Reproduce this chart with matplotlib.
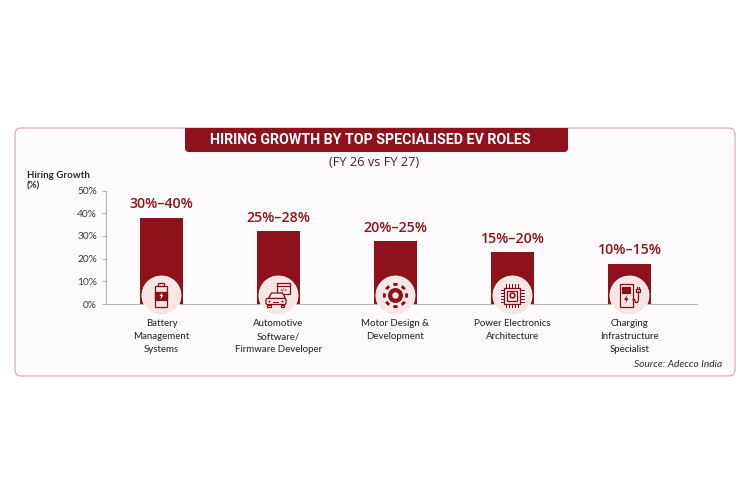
import matplotlib
matplotlib.use("Agg")
import matplotlib.pyplot as plt
from matplotlib.patches import Circle, FancyBboxPatch, Rectangle, Polygon, Wedge

# ── Data ──────────────────────────────────────────────────────────────────────
roles = [
    "Battery\nManagement\nSystems",
    "Automotive\nSoftware/\nFirmware Developer",
    "Motor Design &\nDevelopment",
    "Power Electronics\nArchitecture",
    "Charging\nInfrastructure\nSpecialist",
]
bar_values = [38.1, 32.2, 27.7, 22.7, 17.8]
range_labels = ["30%–40%", "25%–28%", "20%–25%", "15%–20%", "10%–15%"]
y_ticks = [0, 10, 20, 30, 40, 50]

RED = "#8f111c"
DARK = "#7d1018"
PINK = "#f8e6e6"
TEXT = "#2b2b2b"
W, H = 750, 500

plt.rcParams["font.family"] = ["Lato", "DejaVu Sans"]
fig = plt.figure(figsize=(7.5, 5), dpi=100, facecolor="white")


def pixel_axes(zorder):
    a = fig.add_axes([0, 0, 1, 1], zorder=zorder)
    a.set_xlim(0, W)
    a.set_ylim(H, 0)
    a.axis("off")
    a.patch.set_alpha(0)
    return a


# ── Panel and banner ──────────────────────────────────────────────────────────
bg = pixel_axes(0)
bg.add_patch(FancyBboxPatch((15, 128), 720, 248, boxstyle="round,pad=0,rounding_size=6",
                            fc="#fefbfc", ec="#d9a5ab", lw=0.8))
bg.add_patch(FancyBboxPatch((185, 128), 383, 24, boxstyle="round,pad=0,rounding_size=4",
                            fc=RED, ec="none"))
bg.add_patch(Rectangle((185, 128), 383, 8, fc=RED, ec="none"))
bg.text(370.5, 140, "HIRING GROWTH BY TOP SPECIALISED EV ROLES", color="white",
        family=["Roboto", "DejaVu Sans"], fontsize=10.3, fontweight="bold",
        ha="center", va="center")
bg.text(374.5, 162.5, "(FY 26 vs FY 27)", color="#4a2226", fontsize=9.2,
        family=["Open Sans", "DejaVu Sans"], ha="center", va="center")
bg.text(27, 175, "Hiring Growth", color=TEXT, fontsize=7, fontweight="bold",
        ha="left", va="center")
bg.text(27, 186, "(%)", color=TEXT, fontsize=7, fontweight="bold",
        ha="left", va="center")
bg.text(722, 364.5, "Source: Adecco India", color=TEXT, fontsize=7.3, style="italic",
        ha="right", va="center")

# ── Bars ──────────────────────────────────────────────────────────────────────
ax = fig.add_axes([106 / W, 1 - 304 / H, (697 - 106) / W, (304 - 190.5) / H], zorder=1)
ax.patch.set_alpha(0)
x = list(range(len(roles)))
ax.bar(x, bar_values, width=0.368, color=RED)
ax.set_xlim(-0.474, 4.577)
ax.set_ylim(0, 50)
ax.set_yticks(y_ticks)
ax.set_yticklabels([f"{t}%" for t in y_ticks], fontsize=7.3, color="#3a3a3a")
ax.set_xticks([])
ax.tick_params(axis="y", length=3, width=0.7, color="#b9b3b5", pad=3.5)
for s in ["top", "right"]:
    ax.spines[s].set_visible(False)
for s in ["left", "bottom"]:
    ax.spines[s].set_color("#b9b3b5")
    ax.spines[s].set_linewidth(0.8)

for i, (v, lab) in enumerate(zip(bar_values, range_labels)):
    ax.annotate(lab, (i, v), xytext=(0, 4.4), textcoords="offset points", ha="center",
                va="bottom", color=RED, fontsize=10.2, fontweight="semibold",
                family=["Open Sans", "DejaVu Sans"])

# ── Icons and role labels (pixel overlay) ─────────────────────────────────────
ov = pixel_axes(2)
cy = 295.5


def outline(xy, w, h, lw=0.9, fc="none"):
    ov.add_patch(Rectangle(xy, w, h, fc=fc, ec=DARK, lw=lw))


def battery(c):
    outline((c - 6, cy - 9.5), 12, 21)
    outline((c - 3, cy - 12.5), 6, 3)
    outline((c - 6, cy - 3.5), 12, 8, fc=RED)
    ov.add_patch(Polygon([(c + 1, cy - 3), (c - 2, cy + 0.5), (c - 0.3, cy + 0.5), (c - 1, cy + 4),
                          (c + 2, cy - 0.5), (c + 0.3, cy - 0.5)], fc="white", ec="none"))


def car(c):
    outline((c - 1.5, cy - 12.5), 13.5, 10.5)
    ov.plot([c - 1.5, c + 12], [cy - 9.5, cy - 9.5], color=DARK, lw=0.9)
    ov.text(c + 5.5, cy - 5.5, "</>", color=DARK, fontsize=3.5, fontweight="bold",
            ha="center", va="center")
    ov.add_patch(Polygon([(c - 10, cy + 3), (c - 7, cy - 2.5), (c + 4, cy - 2.5), (c + 7, cy + 3)],
                         fc=PINK, ec=DARK, lw=0.9))
    ov.add_patch(FancyBboxPatch((c - 12.5, cy + 3), 20, 6, boxstyle="round,pad=0,rounding_size=1.5",
                                fc=PINK, ec=DARK, lw=0.9))
    outline((c - 11, cy + 9), 3.5, 2.5)
    outline((c + 2.5, cy + 9), 3.5, 2.5)
    ov.add_patch(Circle((c - 9, cy + 6), 1, fc=DARK, ec="none"))
    ov.add_patch(Circle((c + 4, cy + 6), 1, fc=DARK, ec="none"))
    ov.plot([c - 5, c + 0], [cy + 6, cy + 6], color=DARK, lw=0.8)


def motor(c):
    ov.add_patch(Circle((c, cy), 7.5, fc=RED, ec="none"))
    ov.add_patch(Circle((c, cy), 3.2, fc=PINK, ec="none"))
    for a in range(0, 360, 45):
        ov.add_patch(Wedge((c, cy), 12.5, a - 11, a + 11, width=2.8, fc=DARK, ec="none"))


def chip(c):
    outline((c - 8, cy - 8), 16, 16)
    outline((c - 5, cy - 5), 10, 10)
    ov.add_patch(Circle((c, cy), 2.4, fc="none", ec=DARK, lw=1.1))
    for d in (-6, -3, 0, 3, 6):
        ov.plot([c + d, c + d], [cy - 11.5, cy - 8], color=DARK, lw=0.7)
        ov.plot([c + d, c + d], [cy + 8, cy + 11.5], color=DARK, lw=0.7)
        ov.plot([c - 11.5, c - 8], [cy + d, cy + d], color=DARK, lw=0.7)
        ov.plot([c + 8, c + 11.5], [cy + d, cy + d], color=DARK, lw=0.7)


def charger(c):
    outline((c - 9, cy - 11.5), 12.5, 22.5)
    outline((c - 7, cy - 9), 8, 6.5, fc=RED)
    ov.add_patch(Polygon([(c - 2, cy - 1), (c - 5.5, cy + 4.5), (c - 3.2, cy + 4.5), (c - 4.5, cy + 8.5),
                          (c - 0.8, cy + 3), (c - 3, cy + 3)], fc=DARK, ec="none"))
    ov.plot([c + 3.5, c + 5, c + 6, c + 8, c + 9, c + 9],
            [cy + 4, cy + 4, cy + 7, cy + 7, cy + 4, cy - 4], color=DARK, lw=0.9)
    outline((c + 7, cy - 6.5), 4, 3)
    ov.plot([c + 8, c + 8], [cy - 9, cy - 6.5], color=DARK, lw=0.8)
    ov.plot([c + 10, c + 10], [cy - 9, cy - 6.5], color=DARK, lw=0.8)


icons = [battery, car, motor, chip, charger]
for i, (draw_icon, role) in enumerate(zip(icons, roles)):
    # bar centres come from the chart axes, so the icons follow the bars
    c = ov.transData.inverted().transform(ax.transData.transform((i, 0)))[0]
    ov.add_patch(Circle((c, cy), 19.5, fc=PINK, ec="white", lw=0.6))
    draw_icon(c)
    ov.text(c, 319.5, role, color=TEXT, fontsize=6.9, fontweight="medium", ha="center", va="top",
            linespacing=1.5)

fig.savefig("out.png", dpi=100)
